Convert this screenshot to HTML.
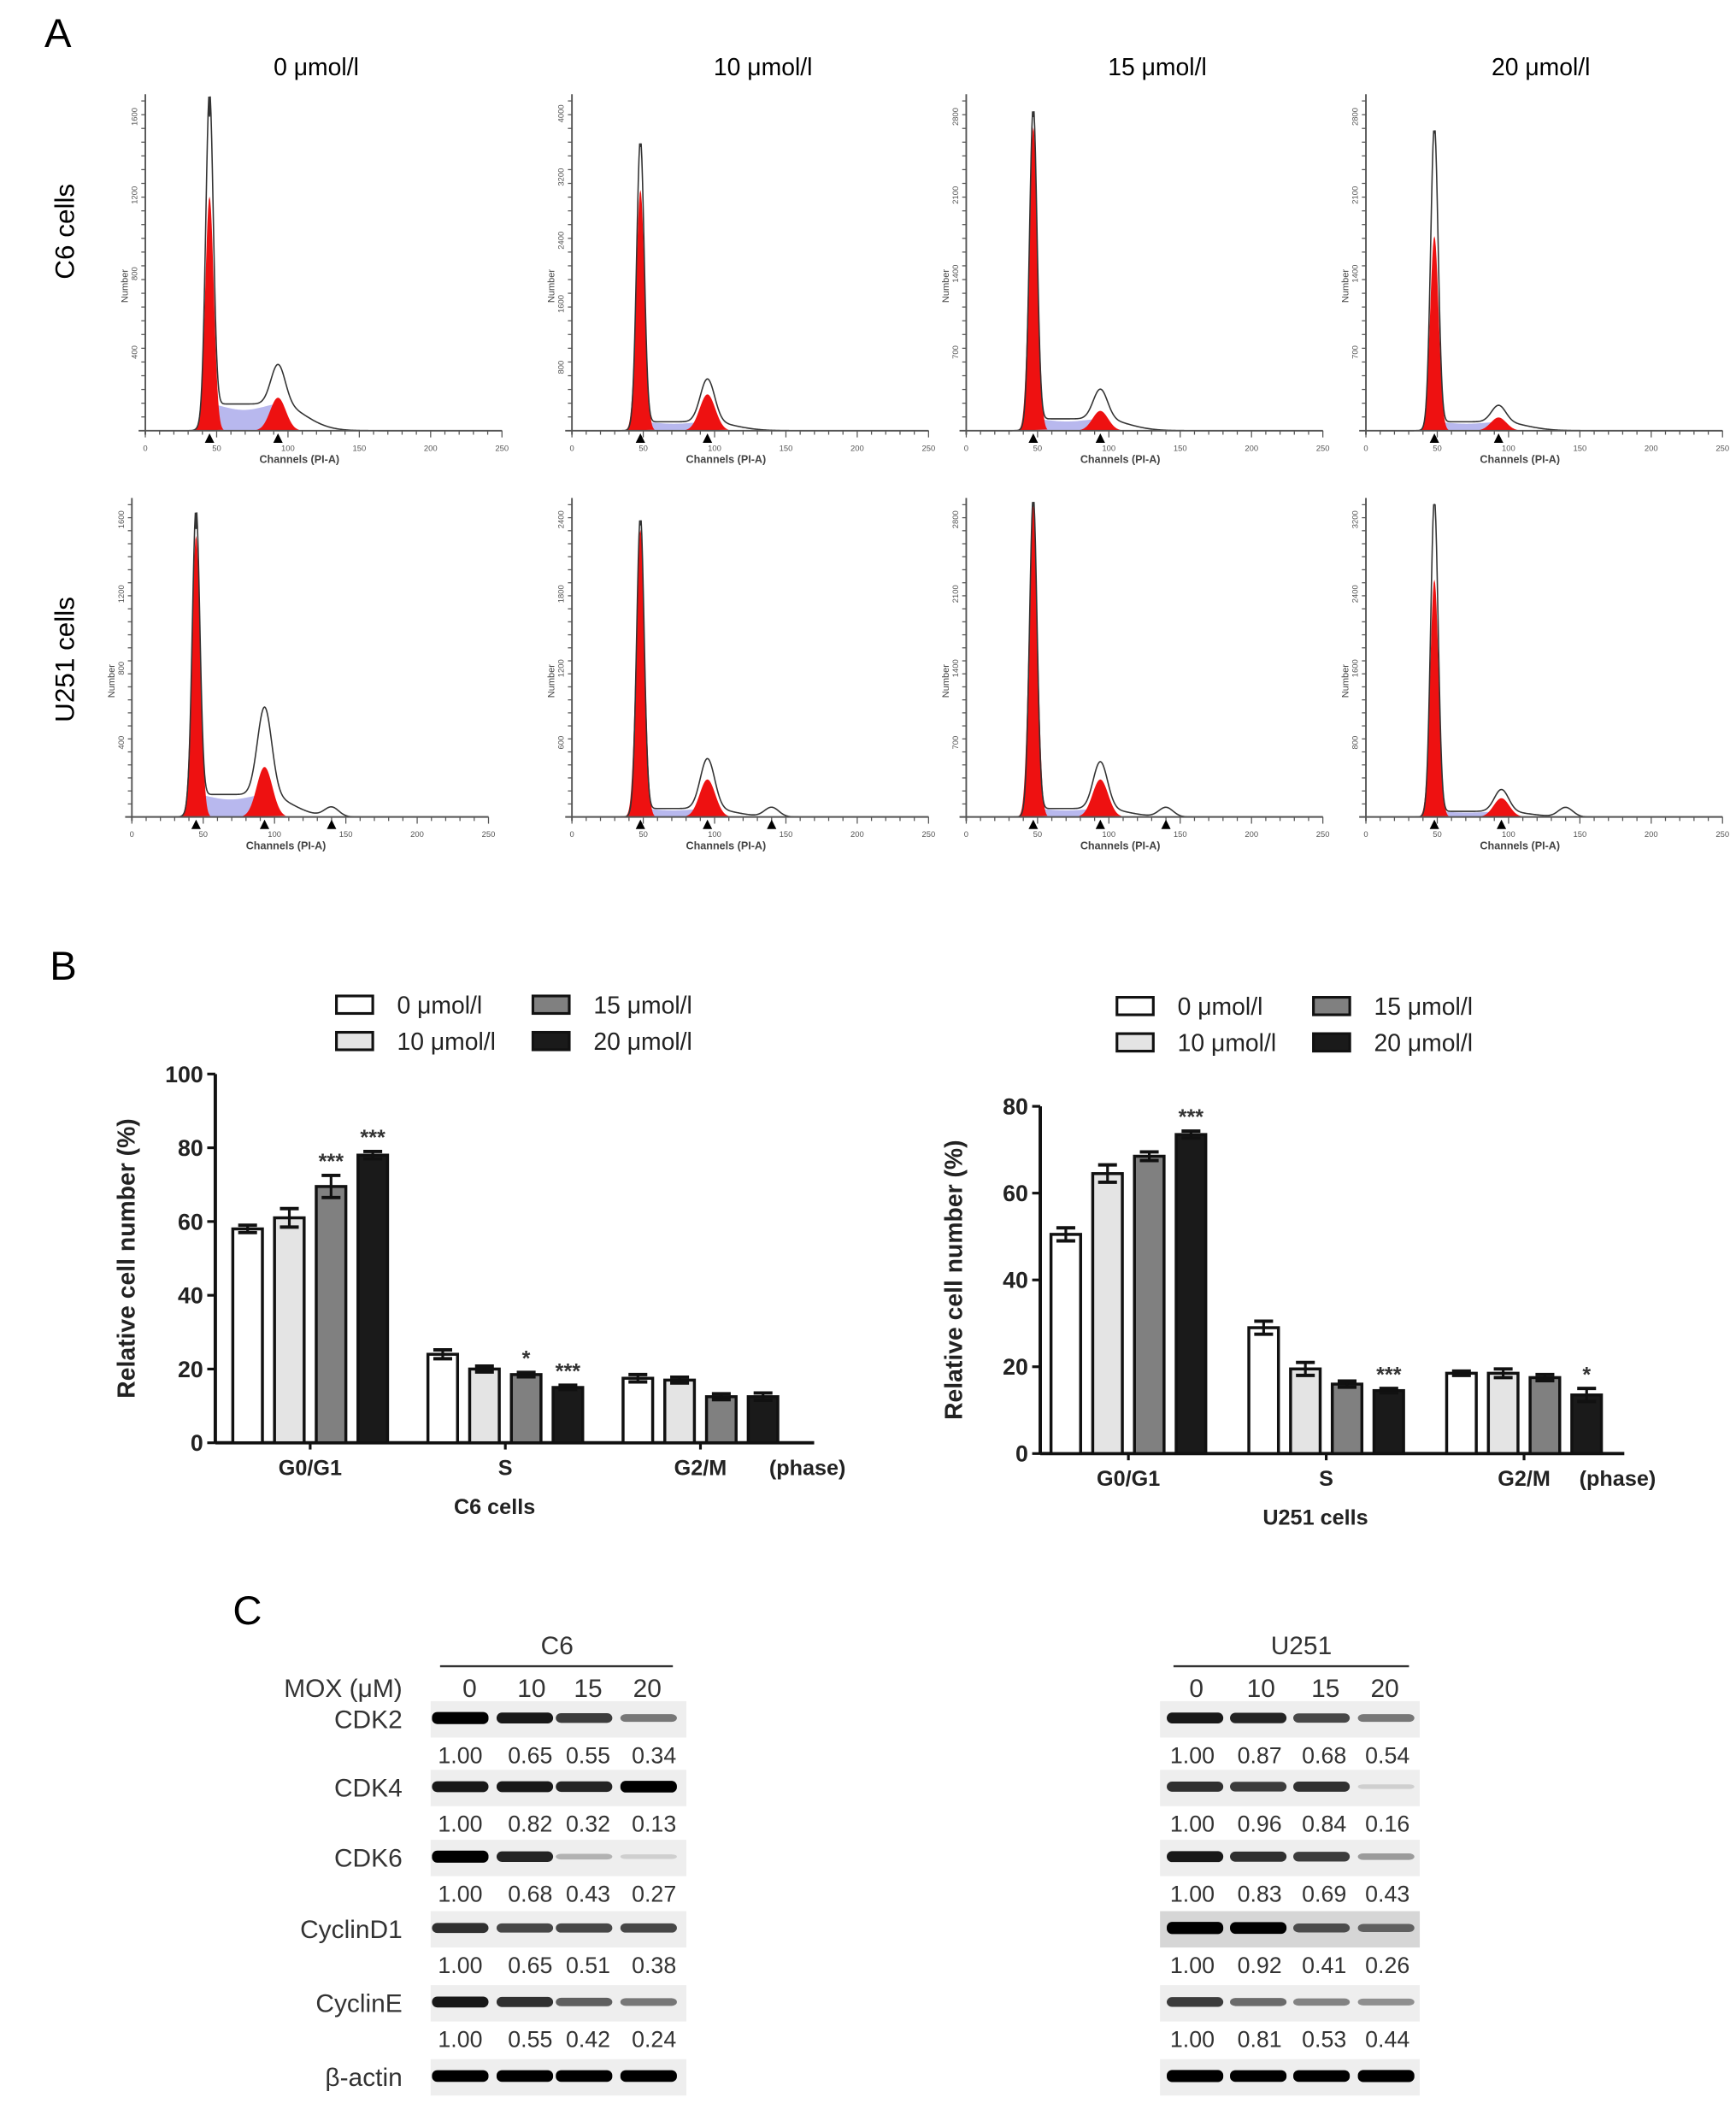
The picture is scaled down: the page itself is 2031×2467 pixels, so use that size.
<!DOCTYPE html>
<html><head><meta charset="utf-8"><style>
html,body{margin:0;padding:0;background:#fff}
svg{display:block}
text{font-family:"Liberation Sans",sans-serif}
</style></head><body>
<svg id="fig" width="2031" height="2467" viewBox="0 0 1290 1567" preserveAspectRatio="none" xmlns="http://www.w3.org/2000/svg">
<rect width="1300" height="1579" fill="#fff"/>
<text x="33" y="35" font-size="30">A</text>
<text x="235" y="56" font-size="18" text-anchor="middle">0 μmol/l</text>
<text x="567" y="56" font-size="18" text-anchor="middle">10 μmol/l</text>
<text x="860" y="56" font-size="18" text-anchor="middle">15 μmol/l</text>
<text x="1145" y="56" font-size="18" text-anchor="middle">20 μmol/l</text>
<text transform="translate(55,172) rotate(-90)" font-size="20" text-anchor="middle">C6 cells</text>
<text transform="translate(55,490) rotate(-90)" font-size="20" text-anchor="middle">U251 cells</text>
<g id="hist"></g>
<text x="37" y="728" font-size="30">B</text>
<g id="bars"></g>
<text x="173" y="1207" font-size="30">C</text>
<g id="blots"></g>
</svg>
<script>
const NS='http://www.w3.org/2000/svg';
function mk(tag,attrs,parent,txt){const e=document.createElementNS(NS,tag);for(const k in attrs)e.setAttribute(k,attrs[k]);if(txt!==undefined)e.textContent=txt;parent.appendChild(e);return e;}

// ---------- Panel A histogram data (fractions of plot height) ----------
const histG1Pos=[45,48,47,48,45,48,47,48];
const histG1Total=[0.95,0.86,0.95,0.90,0.92,0.94,1.0,1.0];
const histG1Red=[0.71,0.73,0.92,0.59,0.90,0.92,1.0,0.76];
const histG2Pos=[93,95,94,93,93,95,94,95];
const histG2Total=[0.12,0.13,0.09,0.05,0.28,0.16,0.15,0.07];
const histG2Red=[0.10,0.11,0.06,0.04,0.16,0.12,0.12,0.06];
const histSLevel=[0.09,0.03,0.04,0.03,0.08,0.03,0.03,0.02];
const histXTicks=[0,50,100,150,200,250];
const histYTicks=[["400","800","1200","1600"],["800","1600","2400","3200","4000"],["700","1400","2100","2800"],["700","1400","2100","2800"],["400","800","1200","1600"],["600","1200","1800","2400"],["700","1400","2100","2800"],["800","1600","2400","3200"]];

const hg=document.getElementById('hist');
const colX=[108,425,718,1015], rowBase=[320,607], rowTop=[75,375], plotW=265;
for(let i=0;i<8;i++){
  const r=Math.floor(i/4), c=i%4;
  const x0=colX[c]-(r===1&&c===0?10:0), yb=rowBase[r], H=yb-rowTop[r];
  const sx=v=>x0+v/250*plotW, sy=f=>yb-f*H;
  const g=mk('g',{},hg);
  
  
  const gs=(x,m,s)=>Math.exp(-((x-m)*(x-m))/(2*s*s));
  const g1=histG1Pos[i], g2=histG2Pos[i];
  let sp='M'+sx(g1)+','+yb;
  for(let x=g1;x<=g2;x+=1){sp+=' L'+sx(x)+','+sy(histSLevel[i]*(1-0.3*gs(x,(g1+g2)/2,15)));}
  sp+=' L'+sx(g2)+','+yb+'Z';
  mk('path',{d:sp,fill:'#b8b8ee'},g);
  let p1='M'+sx(g1-10)+','+yb;for(let x=g1-10;x<=g1+10;x+=0.5)p1+=' L'+sx(x)+','+sy(histG1Red[i]*gs(x,g1,3));p1+=' Z';
  mk('path',{d:p1,fill:'#ee1111'},g);
  let p2='M'+sx(g2-15)+','+yb;for(let x=g2-15;x<=g2+15;x+=0.5)p2+=' L'+sx(x)+','+sy(histG2Red[i]*gs(x,g2,5.5));p2+=' Z';
  mk('path',{d:p2,fill:'#ee1111'},g);
  let t='M'+sx(10)+','+yb;
  for(let x=10;x<=250;x+=0.5){
    let v=histG1Total[i]*gs(x,g1,2.6)+histG2Total[i]*gs(x,g2,5)+(x>g1&&x<g2?histSLevel[i]:histSLevel[i]*gs(x,x<g1?g1:g2,x<g1?4:18))*0.9+(r===1?0.03*gs(x,140,5):0);
    t+=' L'+sx(x)+','+sy(v);
  }
  mk('path',{d:t,fill:'none',stroke:'#333','stroke-width':1},g);
  mk('line',{x1:x0,y1:yb+3,x2:x0,y2:rowTop[r]-5,stroke:'#555','stroke-width':1.2},g);
  mk('line',{x1:x0-5,y1:yb,x2:x0+plotW,y2:yb,stroke:'#555','stroke-width':1.2},g);
  for(let k=0;k<=25;k++){const xx=x0+k*plotW/25;mk('line',{x1:xx,y1:yb,x2:xx,y2:yb+(k%5?3:5),stroke:'#555','stroke-width':0.8},g);}
  for(let k=0;k<=24;k++){const yy=yb-k*H/24;mk('line',{x1:x0-3,y1:yy,x2:x0,y2:yy,stroke:'#555','stroke-width':0.8},g);}
  histXTicks.forEach(v=>{mk('text',{x:sx(v),y:yb+15,'font-size':6,'text-anchor':'middle',fill:'#555'},g,String(v));});
  const yt=histYTicks[i];
  yt.forEach((lab,k)=>{const yy=yb-(k+1)*H/(yt.length+0.2);mk('text',{transform:'translate('+(x0-6)+','+yy+') rotate(-90)','font-size':6,'text-anchor':'middle',fill:'#555'},g,lab);});
  mk('text',{transform:'translate('+(x0-13)+','+(yb-H/2+15)+') rotate(-90)','font-size':7,'text-anchor':'middle',fill:'#444'},g,'Number');
  mk('text',{x:sx(108),y:yb+24,'font-size':8,'text-anchor':'middle',fill:'#444','font-weight':'bold'},g,'Channels (PI-A)');
  [g1,g2].concat(r===1&&c<3?[140]:[]).forEach(m=>{mk('path',{d:'M'+(sx(m)-3.5)+','+(yb+9)+' L'+(sx(m)+3.5)+','+(yb+9)+' L'+sx(m)+','+(yb+2)+'Z',fill:'#000'},g);});
}

// ---------- Panel B bar chart data ----------
const phases=["G0/G1","S","G2/M"];
const doseLabels=["0 μmol/l","10 μmol/l","15 μmol/l","20 μmol/l"];
const c6Values=[[58,61,69.5,78],[24,20,18.5,15],[17.5,17,12.5,12.5]];
const c6Errors=[[1,2.5,3,1],[1.2,0.8,0.6,0.6],[1,0.8,0.8,1]];
const c6Stars=[["","","***","***"],["","","*","***"],["","","",""]];
const u251Values=[[50.5,64.5,68.5,73.5],[29,19.5,16,14.5],[18.5,18.5,17.5,13.5]];
const u251Errors=[[1.5,2,1,0.8],[1.5,1.5,0.7,0.5],[0.5,1,0.7,1.5]];
const u251Stars=[["","","","***"],["","","","***"],["","","","*"]];
const c6Ticks=[0,20,40,60,80,100];
const u251Ticks=[0,20,40,60,80];
const fills=['#ffffff','#e4e4e4','#808080','#1a1a1a'];

const bg=document.getElementById('bars');
function barChart(o){
  const g=mk('g',{},bg);
  
  
  const ymax=o.ticks[o.ticks.length-1];
  const y=v=>o.base-(v/ymax)*(o.base-o.top);
  const x=(p,d)=>o.firstX+p*o.groupGap+d*o.barGap;
  mk('line',{x1:o.ax,y1:o.top,x2:o.ax,y2:o.base,stroke:'#111','stroke-width':2.5},g);
  mk('line',{x1:o.ax,y1:o.base,x2:o.axEnd,y2:o.base,stroke:'#111','stroke-width':2.5},g);
  o.ticks.forEach(t=>{mk('line',{x1:o.ax-6,y1:y(t),x2:o.ax,y2:y(t),stroke:'#111','stroke-width':2},g);
    const tl=mk('text',{x:o.ax-9,y:y(t)+6,'font-size':17,'font-weight':'bold','text-anchor':'end',fill:'#222'},g,String(t));
    
    });
  phases.forEach((ph,p)=>{
    const cx=x(p,1.5);
    mk('line',{x1:cx,y1:o.base,x2:cx,y2:o.base+5,stroke:'#111','stroke-width':2},g);
    const pl=mk('text',{x:cx,y:o.base+24,'font-size':16,'font-weight':'bold','text-anchor':'middle',fill:'#222'},g,ph);
    
    
    for(let d=0;d<4;d++){
      const v=o.values[p][d], e=o.errors[p][d], bx=x(p,d);
      const b=mk('rect',{x:bx-11,y:y(v),width:22,height:o.base-y(v),fill:fills[d],stroke:'#111','stroke-width':2.2},g);
      
      
      mk('line',{x1:bx,y1:y(v+e),x2:bx,y2:y(v-e),stroke:'#111','stroke-width':2},g);
      mk('line',{x1:bx-7,y1:y(v+e),x2:bx+7,y2:y(v+e),stroke:'#111','stroke-width':2.5},g);
      mk('line',{x1:bx-7,y1:y(v-e),x2:bx+7,y2:y(v-e),stroke:'#111','stroke-width':2.5},g);
      if(o.stars[p][d]){const s=mk('text',{x:bx,y:y(v+e)-5,'font-size':16,'font-weight':'bold','text-anchor':'middle',fill:'#333'},g,o.stars[p][d]);
        
        }
    }
  });
  const ph=mk('text',{x:o.axEnd-5,y:o.base+24,'font-size':16,'font-weight':'bold','text-anchor':'middle',fill:'#222'},g,'(phase)');
  
  
  const yt=mk('text',{transform:'translate('+o.ylx+','+((o.top+o.base)/2)+') rotate(-90)','font-size':18,'font-weight':'bold','text-anchor':'middle',fill:'#222'},g,'Relative cell number (%)');
  
  
  const xt=mk('text',{x:x(1,1.5)-8,y:o.base+53,'font-size':16,'font-weight':'bold','text-anchor':'middle',fill:'#222'},g,o.title);
  
  
  doseLabels.forEach((lab,d)=>{
    const lx=o.legX+(d>=2?146:0), ly=o.legY+(d%2)*27;
    const lg=mk('g',{},g);
    
    
    mk('rect',{x:lx,y:ly-13,width:27,height:13,fill:fills[d],stroke:'#111','stroke-width':2},lg);
    mk('text',{x:lx+45,y:ly,'font-size':18,fill:'#222'},lg,lab);
  });
}
barChart({name:'c6-bar-chart',ax:160,axEnd:605,top:798,base:1072,ticks:c6Ticks,firstX:184,groupGap:145,barGap:31,values:c6Values,errors:c6Errors,stars:c6Stars,ylx:100,title:'C6 cells',legX:250,legY:753});
barChart({name:'u251-bar-chart',ax:773,axEnd:1207,top:822,base:1080,ticks:u251Ticks,firstX:792,groupGap:147,barGap:31,values:u251Values,errors:u251Errors,stars:u251Stars,ylx:715,title:'U251 cells',legX:830,legY:754});

// ---------- Panel C western blot data ----------
const proteins=["CDK2","CDK4","CDK6","CyclinD1","CyclinE","β-actin"];
const lanes=["0","10","15","20"];
const c6Quant=[["1.00","0.65","0.55","0.34"],["1.00","0.82","0.32","0.13"],["1.00","0.68","0.43","0.27"],["1.00","0.65","0.51","0.38"],["1.00","0.55","0.42","0.24"]];
const u251Quant=[["1.00","0.87","0.68","0.54"],["1.00","0.96","0.84","0.16"],["1.00","0.83","0.69","0.43"],["1.00","0.92","0.41","0.26"],["1.00","0.81","0.53","0.44"]];
const c6Band=[[1,0.85,0.7,0.45],[0.85,0.85,0.8,0.95],[1,0.8,0.2,0.08],[0.75,0.65,0.65,0.65],[0.85,0.75,0.55,0.45],[0.95,0.95,0.95,0.95]];
const u251Band=[[0.85,0.8,0.65,0.45],[0.75,0.7,0.75,0.08],[0.85,0.75,0.7,0.3],[1,0.95,0.6,0.5],[0.7,0.5,0.4,0.35],[1,0.95,0.95,1]];
const bandY=[1277,1328,1380,1433,1488,1543];
const quantY=[1310,1361,1413,1466,1521];

const blg=document.getElementById('blots');
function blot(o){
  const g=mk('g',{},blg);
  
  
  mk('text',{x:o.hx,y:1229,'font-size':19,'text-anchor':'middle',fill:'#333'},g,o.title);
  mk('line',{x1:o.l1,y1:1238,x2:o.l2,y2:1238,stroke:'#333','stroke-width':1.5},g);
  lanes.forEach((l,k)=>mk('text',{x:o.laneX[k],y:1261,'font-size':19,'text-anchor':'middle',fill:'#333'},g,l));
  proteins.forEach((p,r)=>{
    const bgc=(o.name==='u251-blot'&&r===3)?'#d6d6d6':'#eeeeee';
    mk('rect',{x:o.sx,y:bandY[r]-13,width:o.sw,height:27,fill:bgc},g);
    for(let k=0;k<4;k++){
      const a=o.band[r][k];
      const b=mk('rect',{x:o.bandX[k]-21,y:bandY[r]-2-a*3,width:42,height:3+a*6,rx:4,fill:'#000',opacity:Math.min(1,a+0.05)},g);
      
      
    }
    if(o.labels) mk('text',{x:299,y:bandY[r]+7,'font-size':19,'text-anchor':'end',fill:'#333'},g,p);
    if(r<5) o.quant[r].forEach((q,k)=>mk('text',{x:o.qx[k],y:quantY[r],'font-size':17,'text-anchor':'middle',fill:'#333'},g,q));
  });
  if(o.labels) mk('text',{x:299,y:1261,'font-size':19,'text-anchor':'end',fill:'#333'},g,'MOX (μM)');
}
blot({name:'c6-blot',title:'C6',hx:414,l1:327,l2:500,laneX:[349,395,437,481],sx:320,sw:190,bandX:[342,390,434,482],qx:[342,394,437,486],quant:c6Quant,band:c6Band,labels:true});
blot({name:'u251-blot',title:'U251',hx:967,l1:872,l2:1047,laneX:[889,937,985,1029],sx:862,sw:193,bandX:[888,935,982,1030],qx:[886,936,984,1031],quant:u251Quant,band:u251Band,labels:false});
</script>
</body></html>
